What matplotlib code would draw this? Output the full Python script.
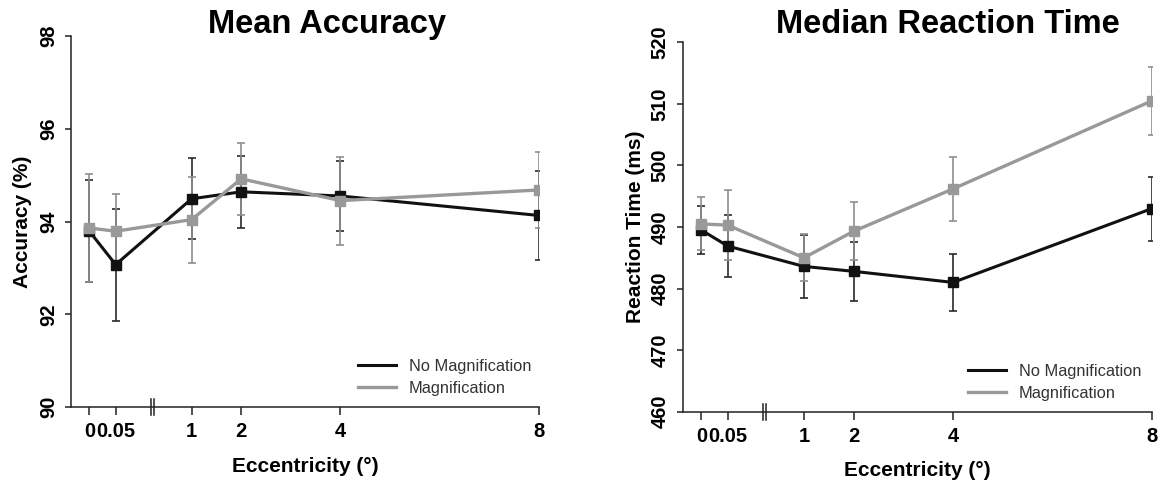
import matplotlib

matplotlib.use("Agg")
import matplotlib.pyplot as plt
from matplotlib.lines import Line2D

plt.rcParams["font.family"] = ["Liberation Sans", "DejaVu Sans"]

# Эксцентриситет (градусы) и подписи оси x
ECC = [0, 0.05, 1, 2, 4, 8]
ECC_LABELS = ["0", "0.05", "1", "2", "4", "8"]

# Точность, %
ACC_NOMAG = [93.79, 93.07, 94.49, 94.64, 94.55, 94.13]
ACC_NOMAG_ERR = [1.10, 1.21, 0.87, 0.77, 0.76, 0.96]
ACC_MAG = [93.86, 93.79, 94.04, 94.92, 94.45, 94.68]
ACC_MAG_ERR = [1.16, 0.81, 0.93, 0.77, 0.95, 0.82]

# Медианное время реакции, мс
RT_NOMAG = [489.5, 486.9, 483.6, 482.8, 481.0, 493.0]
RT_NOMAG_ERR = [3.9, 5.0, 5.1, 4.8, 4.6, 5.2]
RT_MAG = [490.5, 490.3, 485.0, 489.3, 496.2, 510.5]
RT_MAG_ERR = [4.3, 5.7, 3.8, 4.7, 5.2, 5.5]

SERIES_LABELS = ["No Magnification", "Magnification"]

C_BLACK = "#111111"
C_GRAY = "#999999"
AX_COLOR = "#222222"

# 0 и 0.05 стоят левее разрыва оси, остальное — линейно
BROKEN_POS = {0: -1.06, 0.05: -0.53}
BREAK_X = 0.215
X_MIN = -1.43


def xpos(values):
    return [BROKEN_POS.get(v, v) for v in values]


def draw_panel(ax, nomag, nomag_err, mag, mag_err, ylim, yticks, ylabel,
               ylabelpad, legend_anchor):
    x = xpos(ECC)
    ax.errorbar(x, nomag, yerr=nomag_err, color=C_BLACK, ecolor="#2a2a2a",
                lw=2.2, elinewidth=1.2, capsize=3, capthick=1.2,
                marker="s", ms=6.5)
    ax.errorbar(x, mag, yerr=mag_err, color=C_GRAY, ecolor="#8f8f8f",
                lw=2.4, elinewidth=1.2, capsize=3, capthick=1.2,
                marker="s", ms=6.5)

    ax.set_xlim(X_MIN, 8)
    ax.set_ylim(*ylim)
    ax.set_xticks(x)
    ax.set_xticklabels(ECC_LABELS, fontsize=14.5, fontweight="bold")
    ax.set_yticks(yticks)
    ax.set_yticklabels([str(t) for t in yticks], fontsize=14.5,
                       fontweight="bold", rotation=90, va="center")

    for s in ("top", "right"):
        ax.spines[s].set_visible(False)
    for s in ("left", "bottom"):
        ax.spines[s].set_color(AX_COLOR)
        ax.spines[s].set_linewidth(1.1)
    ax.tick_params(axis="x", direction="out", length=6, width=1.1,
                   color=AX_COLOR, pad=5)
    ax.tick_params(axis="y", direction="out", length=4.5, width=1.1,
                   color=AX_COLOR, pad=5)

    # значок разрыва оси "||"
    tr = ax.get_xaxis_transform()
    for dx in (-0.03, 0.03):
        ax.plot([BREAK_X + dx, BREAK_X + dx], [-0.022, 0.022], color=AX_COLOR,
                lw=1.1, transform=tr, clip_on=False)

    ax.set_xlabel("Eccentricity (°)", fontsize=15, fontweight="bold",
                  labelpad=11)
    ax.set_ylabel(ylabel, fontsize=15, fontweight="bold", labelpad=ylabelpad)

    handles = [Line2D([], [], color=C_BLACK, lw=2.2),
               Line2D([], [], color=C_GRAY, lw=2.4)]
    leg = ax.legend(handles, SERIES_LABELS,
                    loc="upper left", bbox_to_anchor=legend_anchor,
                    frameon=False, fontsize=11.8, handlelength=2.3,
                    handletextpad=0.8, labelspacing=0.42, borderpad=0,
                    borderaxespad=0)
    for t in leg.get_texts():
        t.set_color("#333333")


fig = plt.figure(figsize=(11.69, 4.83), dpi=100)
W, H = 1169, 483
ax1 = fig.add_axes([71 / W, (H - 407) / H, 468 / W, 371 / H])
ax2 = fig.add_axes([683 / W, (H - 411.7) / H, 469 / W, 369.4 / H])

draw_panel(ax1, ACC_NOMAG, ACC_NOMAG_ERR, ACC_MAG, ACC_MAG_ERR,
           (90, 98), [90, 92, 94, 96, 98], "Accuracy (%)", 5,
           (0.613, 0.13))
draw_panel(ax2, RT_NOMAG, RT_NOMAG_ERR, RT_MAG, RT_MAG_ERR,
           (460, 520), [460, 470, 480, 490, 500, 510, 520],
           "Reaction Time (ms)", 4, (0.608, 0.13))

fig.text(326.5 / W, 1 - 33 / H, "Mean Accuracy", ha="center", va="baseline",
         fontsize=23.5, fontweight="bold")
fig.text(948 / W, 1 - 33 / H, "Median Reaction Time", ha="center",
         va="baseline", fontsize=23.5, fontweight="bold")

fig.savefig("out.png", dpi=100, facecolor="white")
